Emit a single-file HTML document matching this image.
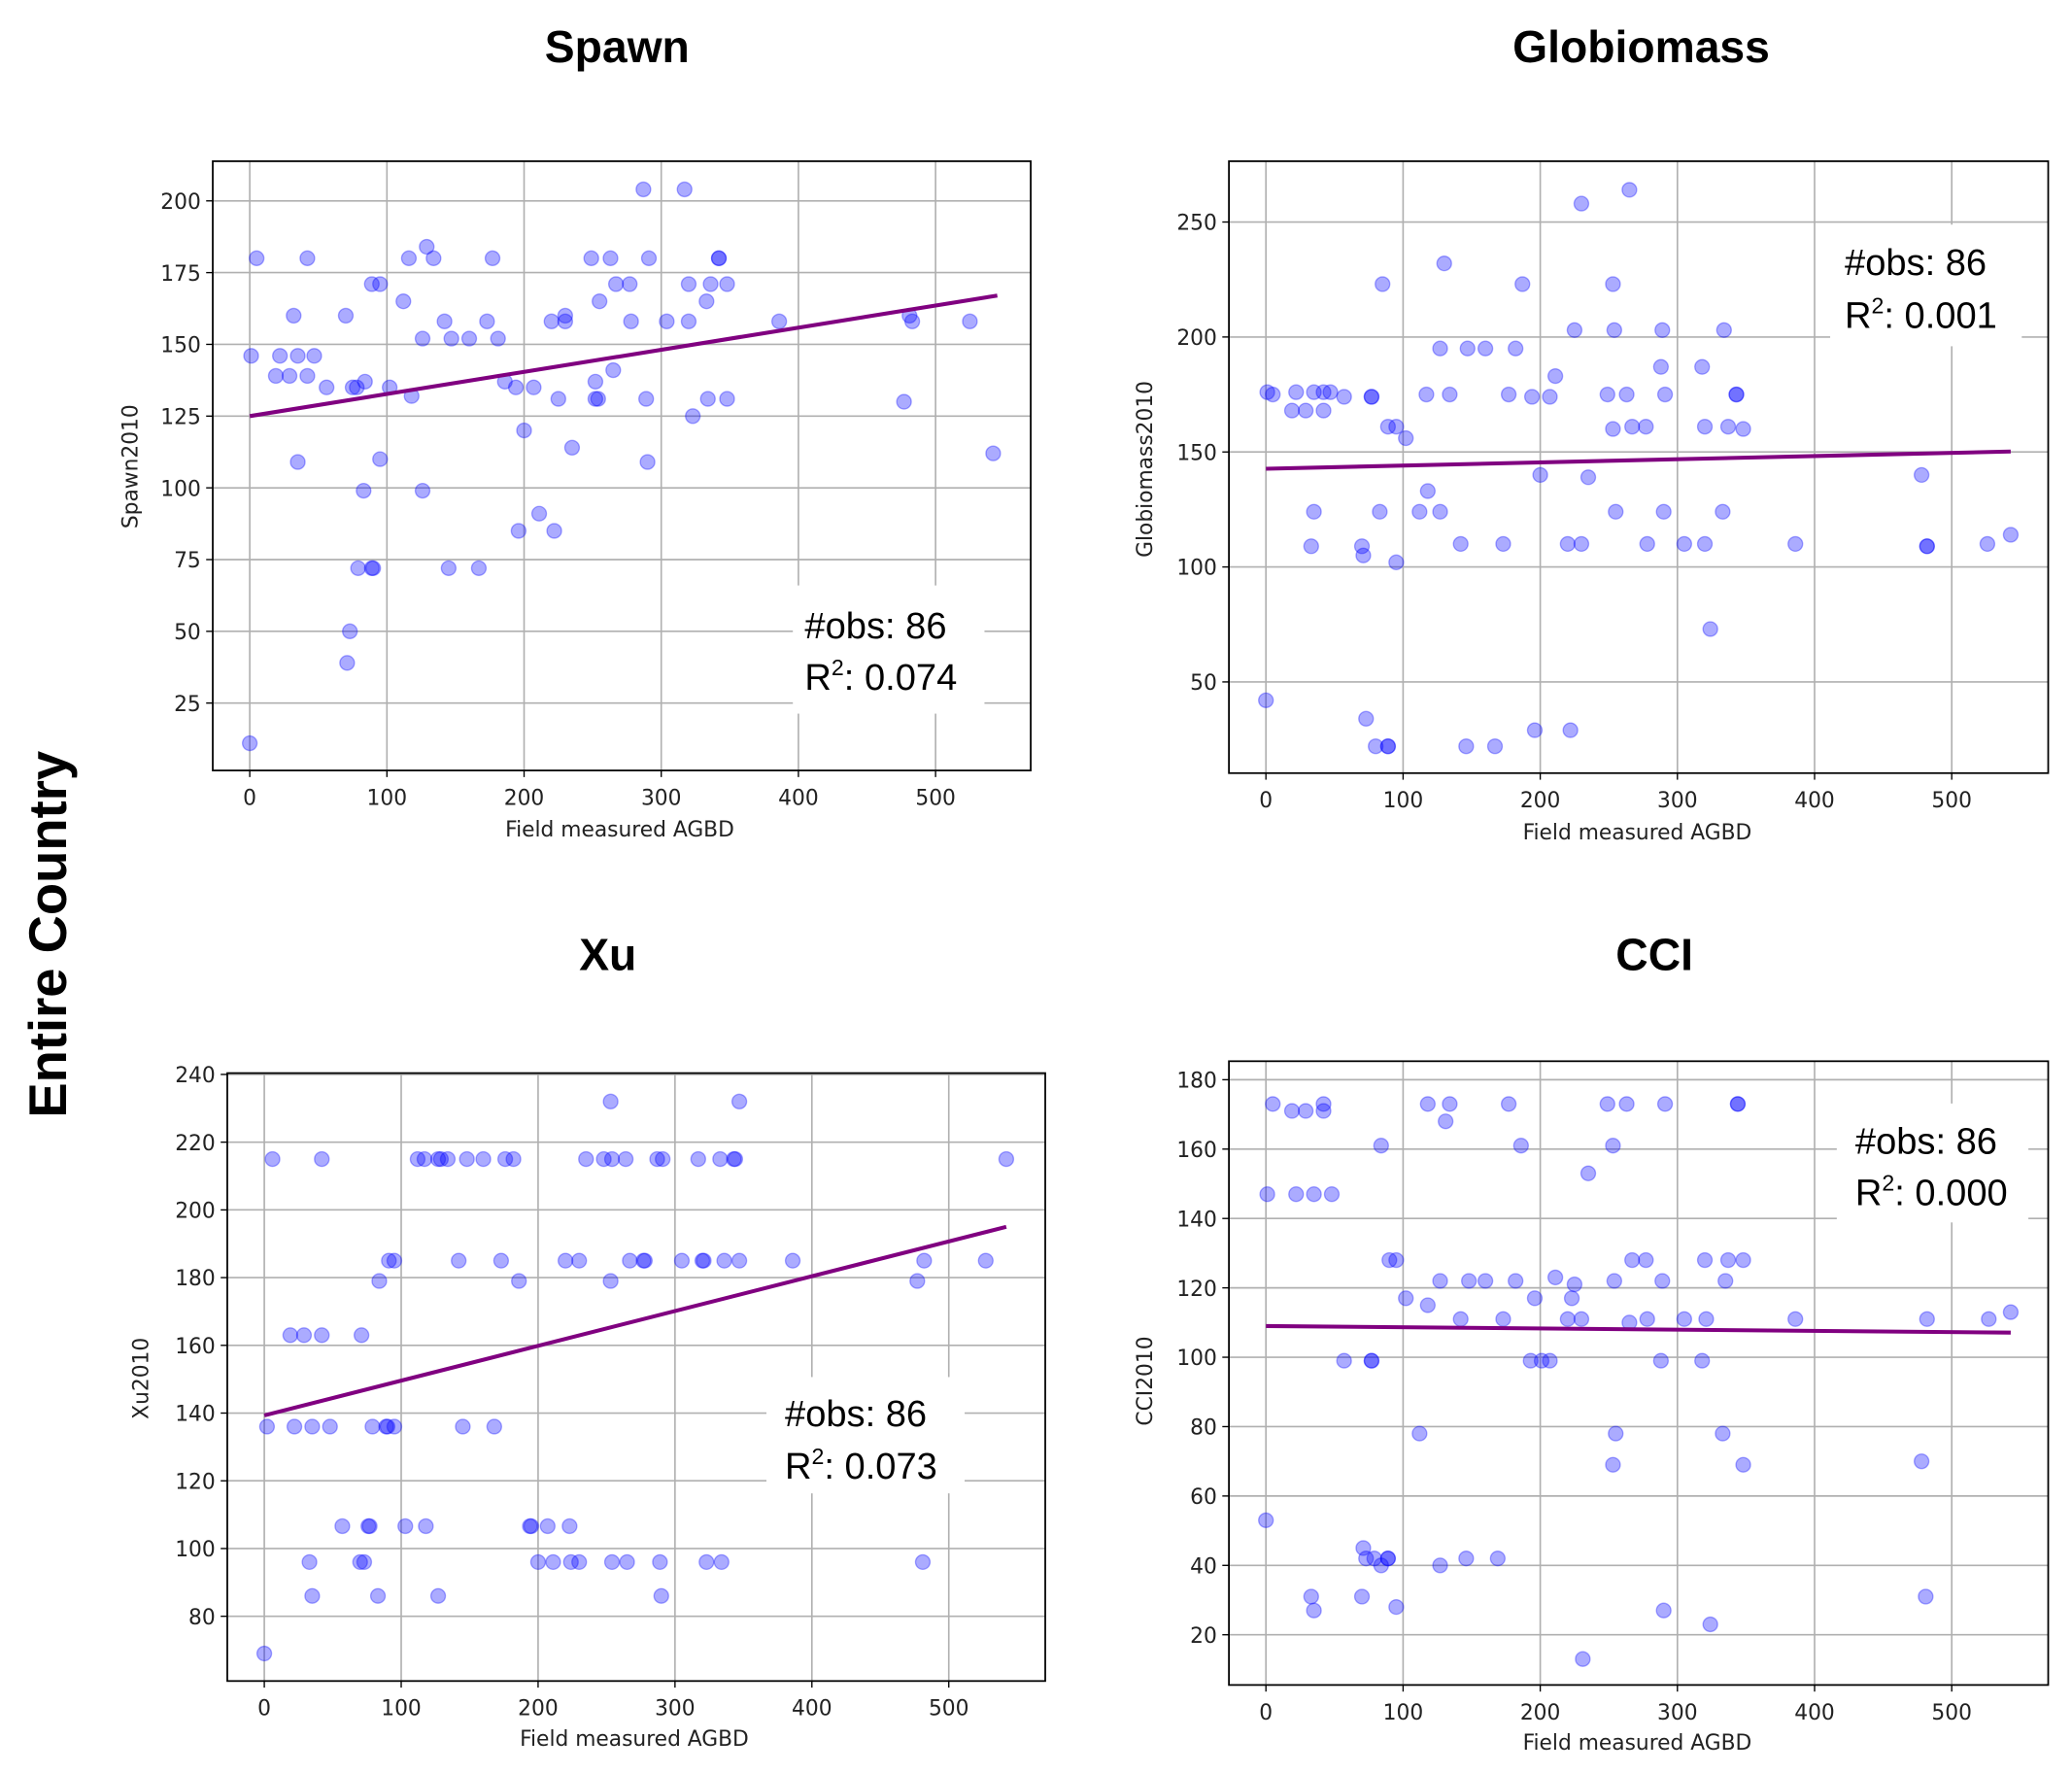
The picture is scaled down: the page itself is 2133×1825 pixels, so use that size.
<!DOCTYPE html>
<html><head><meta charset="utf-8"><style>
html,body{margin:0;padding:0;background:#fff;}
svg{display:block;}
text{font-family:"DejaVu Sans","Liberation Sans",sans-serif;}
</style></head><body>
<svg id="fig" width="2133" height="1825" viewBox="0 0 1568 1341.6" xmlns="http://www.w3.org/2000/svg">
<text transform="translate(50,707) rotate(-90)" text-anchor="middle" font-size="40" font-weight="bold" style="font-family:'Liberation Sans',sans-serif">Entire Country</text>
</svg>
<script>
const spawnX=[287,317,5,42,116,129,134,177,249,263,291,342,342,89,95,112,32,70,142,173,126,147,160,181,267,277,320,336,348,255,333,220,230,230,278,304,320,386,481,483,525,1,22,35,47,19,29,42,56,75,78,84,102,118,186,194,207,225,252,252,254,265,289,334,348,323,477,200,235,290,542,35,95,83,126,196,211,222,79,89,90,145,167,73,71,0];
const spawnY=[204,204,180,180,180,184,180,180,180,180,180,180,180,171,171,165,160,160,158,158,152,152,152,152,171,171,171,171,171,165,165,158,160,158,158,158,158,158,160,158,158,146,146,146,146,139,139,139,135,135,135,137,135,132,137,135,135,131,137,131,131,141,131,131,131,125,130,120,114,109,112,109,110,99,99,85,91,85,72,72,72,72,72,50,39,11];
const spawnLineX=[0,545];
const spawnLineY=[125,167];
const globX=[230,265,130,85,187,253,225,254,289,334,127,147,160,182,288,318,211,1,5,22,35,42,47,57,77,77,19,29,42,117,134,177,194,207,249,263,291,343,343,89,95,102,253,267,277,320,337,348,200,235,478,118,35,83,112,127,255,290,333,33,70,71,95,142,173,220,230,278,305,320,386,482,482,526,543,324,0,73,80,89,89,146,167,196,222];
const globY=[258,264,232,223,223,223,203,203,203,203,195,195,195,195,187,187,183,176,175,176,176,176,176,174,174,174,168,168,168,175,175,175,174,174,175,175,175,175,175,161,161,156,160,161,161,161,161,160,140,139,140,133,124,124,124,124,124,124,124,109,109,105,102,110,110,110,110,110,110,110,110,109,109,110,114,73,42,34,22,22,22,22,22,29,29];
const globLineX=[0,543];
const globLineY=[142.7,150.2];
const xuX=[253,347,6,42,112,117,127,129,134,148,160,176,182,235,248,254,264,287,291,317,333,343,344,542,91,95,142,173,220,230,267,277,278,305,320,321,336,347,386,482,527,84,186,253,477,19,29,42,71,2,22,35,48,79,89,90,95,145,168,57,76,77,103,118,194,195,207,223,33,70,73,200,211,224,230,254,265,289,323,334,481,35,83,127,290,0];
const xuY=[232,232,215,215,215,215,215,215,215,215,215,215,215,215,215,215,215,215,215,215,215,215,215,215,185,185,185,185,185,185,185,185,185,185,185,185,185,185,185,185,185,179,179,179,179,163,163,163,163,136,136,136,136,136,136,136,136,136,136,106.6,106.6,106.6,106.6,106.6,106.6,106.6,106.6,106.6,96,96,96,96,96,96,96,96,96,96,96,96,96,86,86,86,86,69];
const xuLineX=[0,542];
const xuLineY=[139.3,195];
const cciX=[5,118,134,177,249,263,291,344,344,42,19,29,42,131,84,186,253,235,1,22,35,48,90,95,267,277,320,337,348,127,148,160,182,254,289,335,211,225,102,118,196,223,142,173,220,230,278,305,321,386,482,527,265,543,57,77,77,193,201,207,288,318,112,255,333,253,348,478,0,71,73,79,84,89,89,127,146,169,33,35,70,95,290,324,481,231];
const cciY=[173,173,173,173,173,173,173,173,173,173,171,171,171,168,161,161,161,153,147,147,147,147,128,128,128,128,128,128,128,122,122,122,122,122,122,122,123,121,117,115,117,117,111,111,111,111,111,111,111,111,111,111,110,113,99,99,99,99,99,99,99,99,78,78,78,69,69,70,53,45,42,42,40,42,42,40,42,42,31,27,31,28,27,23,31,13];
const cciLineX=[0,543];
const cciLineY=[109,107.1];
const xTicks=[0,100,200,300,400,500];
const spawnTicks=[25,50,75,100,125,150,175,200];
const globTicks=[50,100,150,200,250];
const xuTicks=[80,100,120,140,160,180,200,220,240];
const cciTicks=[20,40,60,80,100,120,140,160,180];

const NS="http://www.w3.org/2000/svg";
const svg=document.getElementById('fig');
function mk(tag,attrs,parent){const e=document.createElementNS(NS,tag);for(const k in attrs)e.setAttribute(k,attrs[k]);(parent||svg).appendChild(e);return e;}

const panels=[
 {key:'spawn',title:'Spawn',tx:467,ty:47,L:161,T:122,R:780,B:583,x0:189,x500:708,ya:200,yaPx:152,yb:25,ybPx:532,ticks:spawnTicks,ylabel:'Spawn2010',ylx:104,yly:353,xlx:469,xly:633,xs:spawnX,ys:spawnY,lx:spawnLineX,ly:spawnLineY,box:[600,443,745,540],ob:[609,483,609,522],r2:'0.074'},
 {key:'globiomass',title:'Globiomass',tx:1242,ty:47,L:930,T:122,R:1550,B:585,x0:958,x500:1477,ya:250,yaPx:168,yb:50,ybPx:516,ticks:globTicks,ylabel:'Globiomass2010',ylx:872,yly:355,xlx:1239,xly:635,xs:globX,ys:globY,lx:globLineX,ly:globLineY,box:[1385,170,1530,262],ob:[1396,208,1396,248],r2:'0.001'},
 {key:'xu',title:'Xu',tx:460,ty:734,L:172,T:812,R:791,B:1272,x0:200,x500:718,ya:240,yaPx:813,yb:80,ybPx:1223,ticks:xuTicks,ylabel:'Xu2010',ylx:112,yly:1043,xlx:480,xly:1321,xs:xuX,ys:xuY,lx:xuLineX,ly:xuLineY,box:[580,1042,730,1130],ob:[594,1079,594,1119],r2:'0.073'},
 {key:'cci',title:'CCI',tx:1252,ty:734,L:930,T:803,R:1550,B:1275,x0:958,x500:1477,ya:180,yaPx:817,yb:20,ybPx:1237,ticks:cciTicks,ylabel:'CCI2010',ylx:872,yly:1045,xlx:1239,xly:1324,xs:cciX,ys:cciY,lx:cciLineX,ly:cciLineY,box:[1390,835,1535,925],ob:[1404,873,1404,912],r2:'0.000'}
];

panels.forEach(p=>{
 const g=mk('g',{});
 
 
 const sx=v=>p.x0+(v)*(p.x500-p.x0)/500;
 const sy=v=>p.yaPx+(p.ya-v)*(p.ybPx-p.yaPx)/(p.ya-p.yb);
 const t=mk('text',{x:p.tx,y:p.ty,'text-anchor':'middle','font-size':34,'font-weight':'bold',style:"font-family:'Liberation Sans',sans-serif"},g);
 t.textContent=p.title;
 
 
 // grid
 xTicks.forEach(v=>{const X=sx(v);
  const gl=mk('line',{x1:X,x2:X,y1:p.T,y2:p.B,stroke:'#b0b0b0','stroke-width':1.2},g);
  
  mk('line',{x1:X,x2:X,y1:p.B,y2:p.B+5,stroke:'#000','stroke-width':1},g);
  const tl=mk('text',{x:X,y:p.B+26,'text-anchor':'middle','font-size':16,fill:'#222'},g);tl.textContent=v;
  
 });
 p.ticks.forEach(v=>{const Y=sy(v);
  const gl=mk('line',{x1:p.L,x2:p.R,y1:Y,y2:Y,stroke:'#b0b0b0','stroke-width':1.2},g);
  
  mk('line',{x1:p.L-5,x2:p.L,y1:Y,y2:Y,stroke:'#000','stroke-width':1},g);
  const tl=mk('text',{x:p.L-9,y:Y+6,'text-anchor':'end','font-size':16,fill:'#222'},g);tl.textContent=v;
  
 });
 // annotation box
 const b=p.box;
 const bx=mk('rect',{x:b[0],y:b[1],width:b[2]-b[0],height:b[3]-b[1],fill:'#fff'},g);
 
 const o1=mk('text',{x:p.ob[0],y:p.ob[1],'font-size':28,style:"font-family:'Liberation Sans',sans-serif"},g);
 o1.textContent='#obs: 86';
 
 const o2=mk('text',{x:p.ob[2],y:p.ob[3],'font-size':28,style:"font-family:'Liberation Sans',sans-serif"},g);
 o2.innerHTML='R<tspan font-size="17" dy="-11">2</tspan><tspan dy="11">: '+p.r2+'</tspan>';
 
 // points
 p.xs.forEach((xv,i)=>{
  const c=mk('circle',{cx:sx(xv),cy:sy(p.ys[i]),r:5.5,fill:'rgba(0,0,255,0.33)',stroke:'rgba(0,0,255,0.33)','stroke-width':1},g);
  
  
 });
 // regression line
 const ln=mk('line',{x1:sx(p.lx[0]),y1:sy(p.ly[0]),x2:sx(p.lx[1]),y2:sy(p.ly[1]),stroke:'#800080','stroke-width':3},g);
 
 // frame
 const fr=mk('rect',{x:p.L,y:p.T,width:p.R-p.L,height:p.B-p.T,fill:'none',stroke:'#000','stroke-width':1.3},g);
 
 const yl=mk('text',{transform:'translate('+p.ylx+','+p.yly+') rotate(-90)','text-anchor':'middle','font-size':16,fill:'#222'},g);
 yl.textContent=p.ylabel;
 
 const xl=mk('text',{x:p.xlx,y:p.xly,'text-anchor':'middle','font-size':16,fill:'#222'},g);
 xl.textContent='Field measured AGBD';
 
});
</script>
</body></html>
